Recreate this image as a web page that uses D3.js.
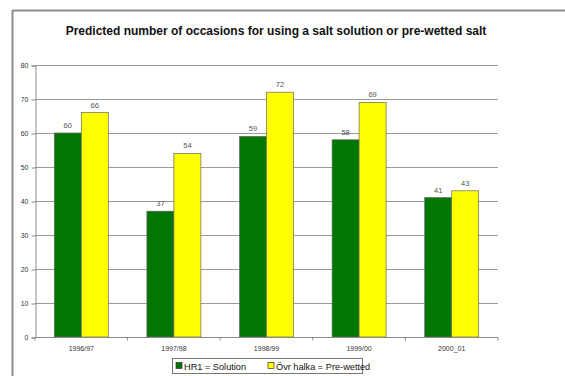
<!DOCTYPE html>
<html>
<head>
<meta charset="utf-8">
<script src="https://cdn.jsdelivr.net/npm/d3@7"></script>
<style>
  body { margin: 0; background: #fff; }
  svg { display: block; font-family: "Liberation Sans", Arial, sans-serif; }
</style>
</head>
<body>
<svg id="chart" width="565" height="376"></svg>
<script>
// chart data
var seasons = ["1996/97", "1997/98", "1998/99", "1999/00", "2000_01"];
var seriesNames = ["HR1 = Solution", "Övr halka = Pre-wetted"];
var solution = [60, 37, 59, 58, 41];
var preWetted = [66, 54, 72, 69, 43];
var yTicks = [0, 10, 20, 30, 40, 50, 60, 70, 80];
var colors = ["#007700", "#ffff00"];

var svg = d3.select("#chart");

// outer frame (only top and left edges visible)
svg.append("line").attr("x1", 12.5).attr("x2", 565).attr("y1", 10.5).attr("y2", 10.5)
  .attr("stroke", "#8c8c8c").attr("stroke-width", 2);
svg.append("line").attr("x1", 12.5).attr("x2", 12.5).attr("y1", 10).attr("y2", 376)
  .attr("stroke", "#8c8c8c").attr("stroke-width", 2);

svg.append("text")
  .attr("x", 276).attr("y", 35)
  .attr("text-anchor", "middle")
  .attr("font-size", 12).attr("font-weight", "bold").attr("fill", "#111")
  .text("Predicted number of occasions for using a salt solution or pre-wetted salt");

var x = d3.scaleBand().domain(seasons).range([35, 498]).paddingInner(0.417).paddingOuter(0.2085);
var y = d3.scaleLinear().domain([0, 80]).range([337, 65]);
var x1 = d3.scaleBand().domain([0, 1]).range([0, x.bandwidth()]);

// gridlines
svg.append("g").selectAll("line").data(yTicks.slice(1)).enter().append("line")
  .attr("x1", 35).attr("x2", 498)
  .attr("y1", d => Math.round(y(d)) + 0.5).attr("y2", d => Math.round(y(d)) + 0.5)
  .attr("stroke", "#9a9a9a").attr("stroke-width", 1.2);

// y axis
var yAxis = svg.append("g").attr("transform", "translate(35.5,0.5)")
  .call(d3.axisLeft(y).tickValues(yTicks).tickSize(4).tickPadding(3));
yAxis.select(".domain").attr("stroke", "#8a8a8a");
yAxis.selectAll(".tick line").attr("stroke", "#8a8a8a");
yAxis.selectAll("text").attr("font-size", 7).attr("fill", "#333").attr("font-family", "Liberation Sans, Arial");

// bars
var groups = svg.append("g").selectAll("g").data(seasons).enter().append("g")
  .attr("transform", d => "translate(" + x(d) + ",0)");

var barData = function(d, i) {
  return [{s: 0, v: solution[i]}, {s: 1, v: preWetted[i]}];
};

groups.selectAll("rect").data(barData).enter().append("rect")
  .attr("x", d => x1(d.s))
  .attr("y", d => y(d.v))
  .attr("width", x1.bandwidth())
  .attr("height", d => y(0) - y(d.v))
  .attr("fill", d => colors[d.s])
  .attr("stroke", "#666")
  .attr("stroke-width", 0.7);

groups.selectAll("text").data(barData).enter().append("text")
  .attr("x", d => x1(d.s) + x1.bandwidth() / 2)
  .attr("y", d => y(d.v) - 5)
  .attr("text-anchor", "middle")
  .attr("font-size", 7.5).attr("fill", "#555")
  .text(d => d.v);

// x axis
var xAxisG = svg.append("g").attr("transform", "translate(0,337.5)");
xAxisG.append("line").attr("x1", 35).attr("x2", 498).attr("stroke", "#8a8a8a");
var bounds = seasons.map(s => x(s) - x.step() * x.paddingInner() / 2).concat([498]);
xAxisG.selectAll(".tk").data(bounds).enter().append("line").attr("class", "tk")
  .attr("x1", d => d).attr("x2", d => d).attr("y1", 0).attr("y2", 3)
  .attr("stroke", "#8a8a8a");
xAxisG.selectAll("text").data(seasons).enter().append("text")
  .attr("x", d => x(d) + x.bandwidth() / 2)
  .attr("y", 13)
  .attr("text-anchor", "middle")
  .attr("font-size", 7).attr("fill", "#333")
  .text(d => d);

// legend
var legend = svg.append("g").attr("transform", "translate(172,358)");
legend.append("rect").attr("x", 0.5).attr("y", 0.5).attr("width", 190).attr("height", 15)
  .attr("fill", "#fff").attr("stroke", "#777").attr("stroke-width", 1);
var legendX = [4, 96];
seriesNames.forEach(function(name, i) {
  legend.append("rect").attr("x", legendX[i]).attr("y", 4.5).attr("width", 6).attr("height", 6)
    .attr("fill", colors[i]).attr("stroke", "#333").attr("stroke-width", 0.7);
  legend.append("text").attr("x", legendX[i] + 8).attr("y", 11.5)
    .attr("font-size", 9.2).attr("fill", "#111")
    .text(name);
});
</script>
</body>
</html>
